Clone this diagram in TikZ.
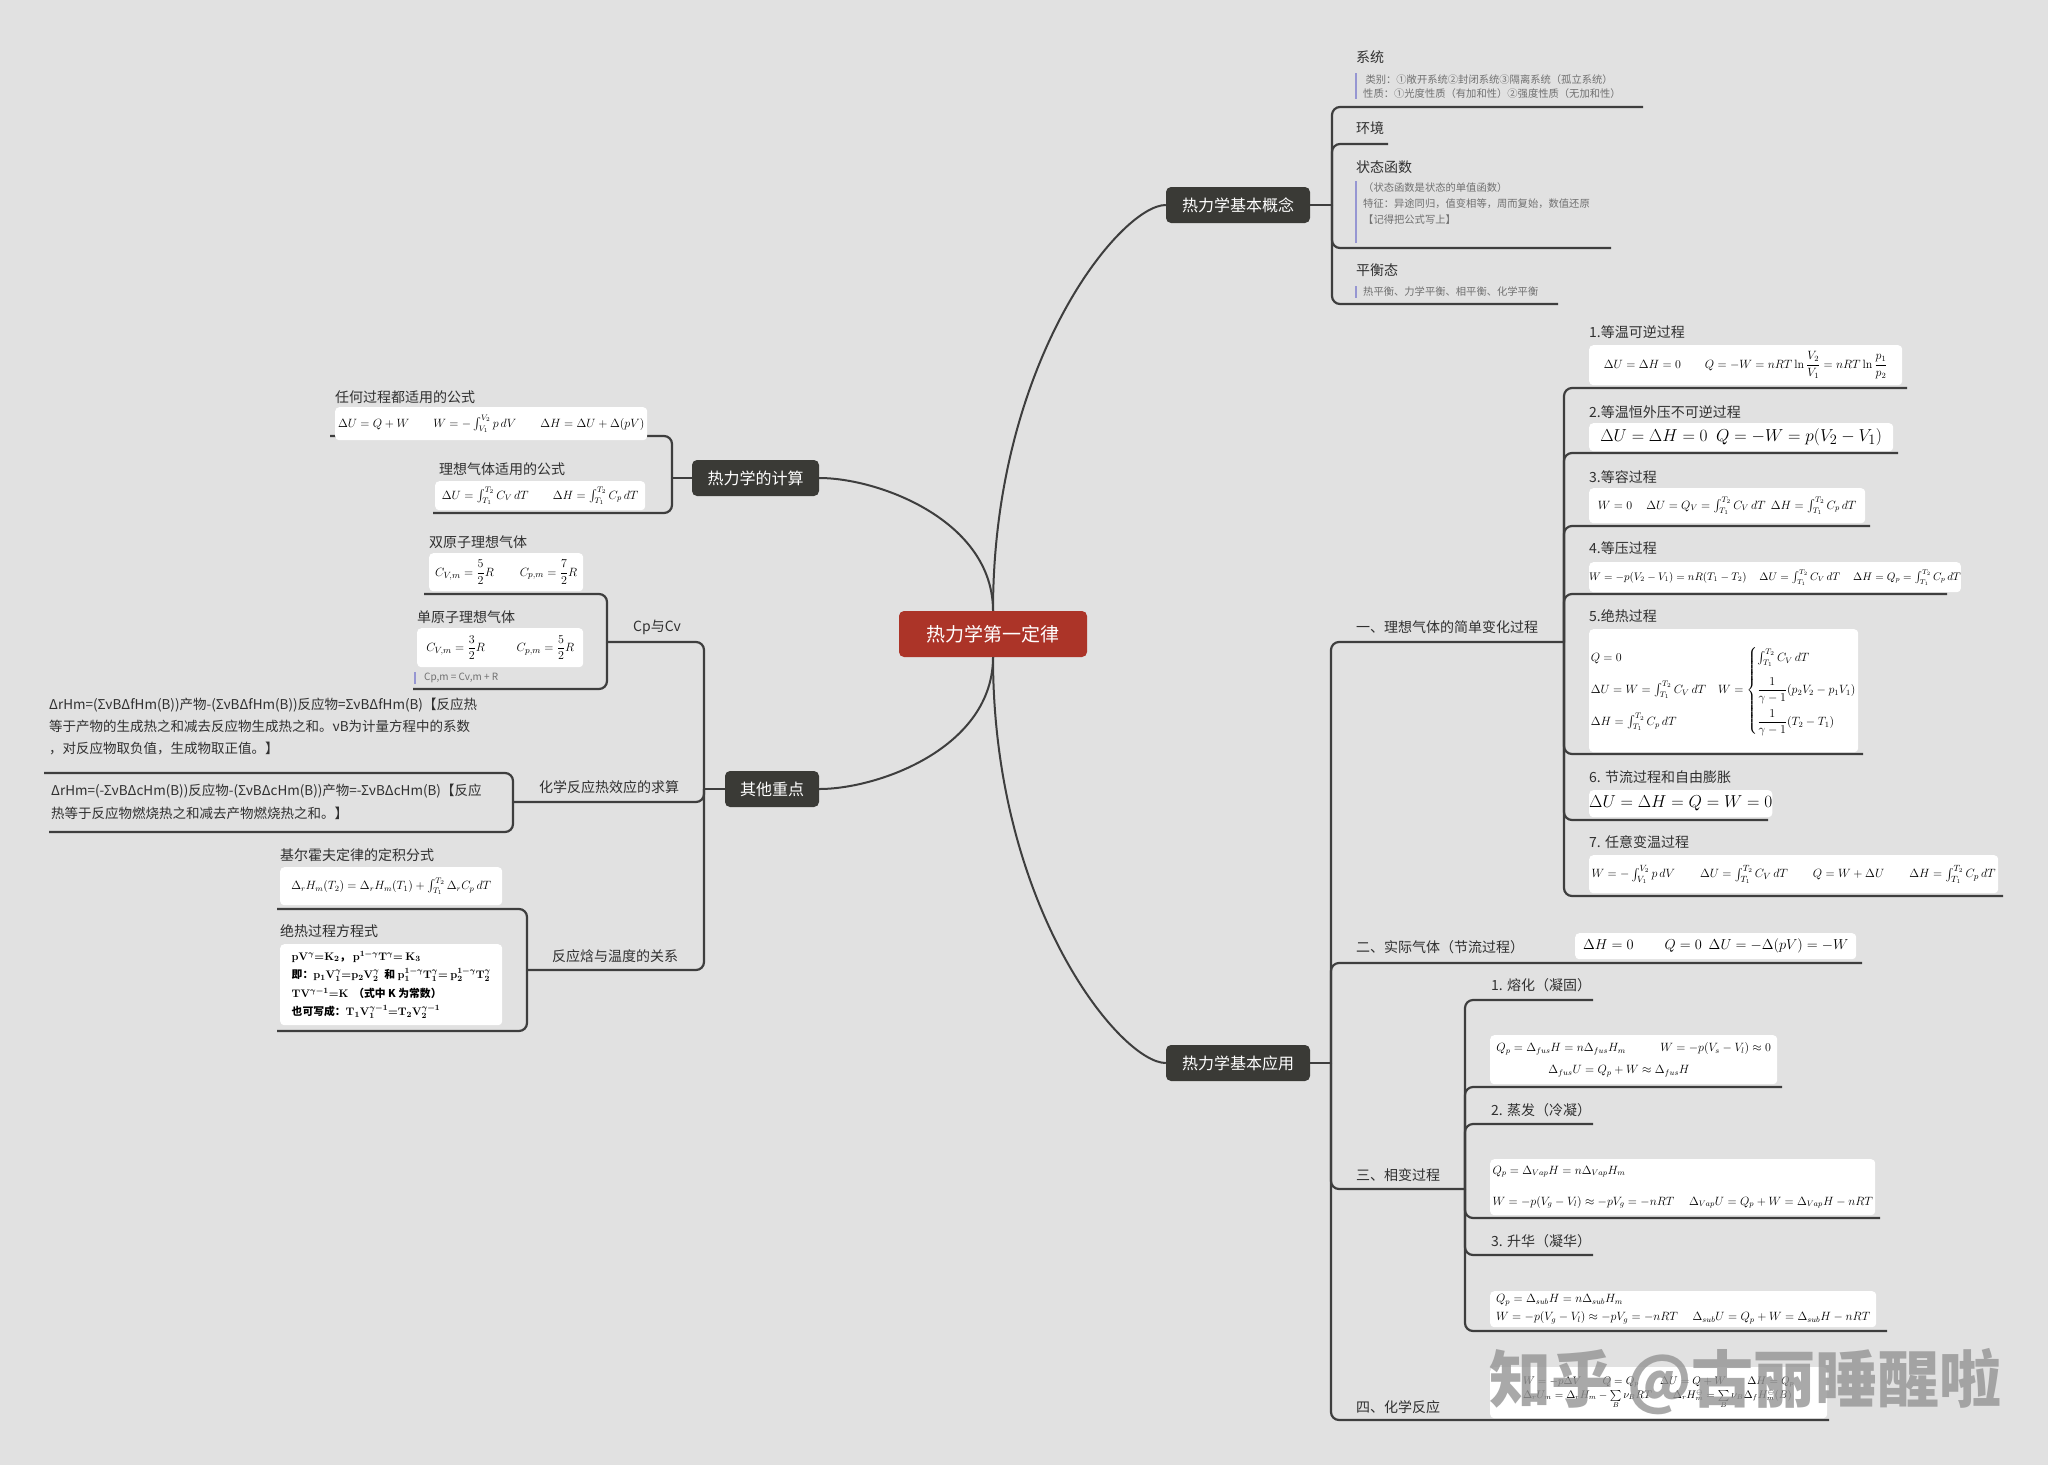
\documentclass[tikz,border=0pt]{standalone}
\usepackage{amsmath}
\usepackage[no-math]{fontspec}
\setmainfont{Noto Sans CJK SC}
\usepackage{tikz}

\definecolor{bggray}{RGB}{225,225,225}
\definecolor{linegray}{RGB}{62,62,62}
\definecolor{rootred}{RGB}{172,52,40}
\definecolor{topicdark}{RGB}{58,58,54}
\definecolor{labeltext}{RGB}{48,48,48}
\definecolor{notegray}{RGB}{112,112,112}
\definecolor{notebarc}{RGB}{150,150,210}

\begin{document}
\begin{tikzpicture}[
x=1pt, y=-1pt,
rootnode/.style={
fill=rootred, text=white,
rounded corners=5pt,
minimum width=188pt, minimum height=46pt,
inner sep=0pt,
font=\fontsize{19}{22}\selectfont
},
topic/.style={
fill=topicdark, text=white,
rounded corners=5pt,
minimum height=36pt, inner sep=0pt,
font=\fontsize{16}{19}\selectfont
},
sub/.style={anchor=west, inner sep=0pt, text=labeltext, font=\fontsize{14}{17}\selectfont},
note/.style={anchor=north west, inner xsep=7pt, inner ysep=1pt, align=left,
text=notegray, font=\fontsize{10.3}{14}\selectfont},
block/.style={anchor=north west, inner sep=0pt, align=left, text=labeltext,
font=\fontsize{13.5}{22}\selectfont},
formula/.style={anchor=north west, fill=white, rounded corners=4pt, inner sep=0pt,
align=left, text=black},
link/.style={draw=linegray, line width=2.2pt, rounded corners=8pt},
mainlink/.style={draw=linegray, line width=2pt},
notebar/.style={draw=notebarc, line width=2pt},
watermark/.style={anchor=west, inner sep=0pt, text=black!42, opacity=0.8,
font=\fontsize{62}{70}\selectfont\bfseries}
]

\fill[bggray] (0,0) rectangle (2048,1465);
\useasboundingbox (0,0) rectangle (2048,1465);

% centre and main topics
\node[rootnode] (root) at (993,634) {热力学第一定律};
\node[topic, minimum width=144pt] (concept) at (1238,205) {热力学基本概念};
\node[topic, minimum width=144pt] (apply) at (1238,1063) {热力学基本应用};
\node[topic, minimum width=127pt] (calc) at (755.5,478) {热力学的计算};
\node[topic, minimum width=94pt] (other) at (772,789) {其他重点};

\draw[mainlink] (root.north) .. controls +(0,-250) and +(-45,0) .. (concept.west);
\draw[mainlink] (root.south) .. controls +(0,250) and +(-45,0) .. (apply.west);
\draw[mainlink] (root.north) .. controls +(0,-90) and +(60,0) .. (calc.east);
\draw[mainlink] (root.south) .. controls +(0,90) and +(60,0) .. (other.east);

% basic concepts
\coordinate (cbar) at (1332,205);
\coordinate (sys-end) at (1643,107);
\coordinate (env-end) at (1388,144);
\coordinate (state-end) at (1611,248);
\coordinate (eq-end) at (1558,304);
\draw[link] (concept.east) -- (cbar);
\draw[link] (cbar) |- (sys-end);
\draw[link] (cbar) |- (env-end);
\draw[link] (cbar) |- (state-end);
\draw[link] (cbar) |- (eq-end);

\node[sub] (sys) at (1356,57) {系统};
\node[note] (sysnote) at (1356,73) {\ 类别：①敞开系统②封闭系统③隔离系统（孤立系统）\\性质：①光度性质（有加和性）②强度性质（无加和性）};
\draw[notebar] (sysnote.north west) -- (sysnote.south west);
\node[sub] (env) at (1356,128) {环境};
\node[sub] (state) at (1356,167) {状态函数};
\node[note, font=\fontsize{10.3}{16}\selectfont] (statenote) at (1356,181) {（状态函数是状态的单值函数）\\特征：异途同归，值变相等，周而复始，数值还原\\【记得把公式写上】};
\draw[notebar] (statenote.north west) -- ++(0,62);
\node[sub] (eq) at (1356,270) {平衡态};
\node[note] (eqnote) at (1356,286) {热平衡、力学平衡、相平衡、化学平衡};
\draw[notebar] (eqnote.north west) -- (eqnote.south west);

% basic applications
\coordinate (abar) at (1331,1063);
\coordinate (ideal-end) at (1564,642);
\coordinate (real-end) at (1862,963);
\coordinate (phase-end) at (1465,1189);
\coordinate (chem-end) at (1829,1420);
\draw[link] (apply.east) -- (abar);
\draw[link] (abar) |- (ideal-end);
\draw[link] (abar) |- (real-end);
\draw[link] (abar) |- (phase-end);
\draw[link] (abar) |- (chem-end);

\node[sub] (ideal) at (1356,627) {一、理想气体的简单变化过程};
\node[sub] (real) at (1356,947) {二、实际气体（节流过程）};
\node[sub] (phase) at (1356,1175) {三、相变过程};
\node[sub] (chem) at (1356,1407) {四、化学反应};

\coordinate (p1-end) at (1907,388);
\coordinate (p2-end) at (1898,453);
\coordinate (p3-end) at (1870,526);
\coordinate (p4-end) at (1947,594);
\coordinate (p5-end) at (1863,754);
\coordinate (p6-end) at (1768,820);
\coordinate (p7-end) at (2003,896);
\draw[link] (ideal-end) |- (p1-end);
\draw[link] (ideal-end) |- (p2-end);
\draw[link] (ideal-end) |- (p3-end);
\draw[link] (ideal-end) |- (p4-end);
\draw[link] (ideal-end) |- (p5-end);
\draw[link] (ideal-end) |- (p6-end);
\draw[link] (ideal-end) |- (p7-end);

\node[sub] (p1) at (1589,332) {1.等温可逆过程};
\node[formula, minimum width=313pt, minimum height=40pt, font=\fontsize{12}{14}\selectfont] (p1f) at (1589,345)
{$\Delta U=\Delta H=0\qquad Q=-W=nRT\ln\dfrac{V_2}{V_1}=nRT\ln\dfrac{p_1}{p_2}$};
\node[sub] (p2) at (1589,412) {2.等温恒外压不可逆过程};
\node[formula, minimum width=304pt, minimum height=28pt, font=\fontsize{19}{22}\selectfont] (p2f) at (1589,423)
{$\Delta U=\Delta H=0\ \ Q=-W=p(V_2-V_1)$};
\node[sub] (p3) at (1589,477) {3.等容过程};
\node[formula, minimum width=276pt, minimum height=35pt, font=\fontsize{11.5}{14}\selectfont] (p3f) at (1589,488)
{$W=0\quad\ \Delta U=Q_V=\int_{T_1}^{T_2}C_V\,dT\ \ \Delta H=\int_{T_1}^{T_2}C_p\,dT$};
\node[sub] (p4) at (1589,548) {4.等压过程};
\node[formula, minimum width=353pt, minimum height=30pt, font=\fontsize{10.5}{13}\selectfont] (p4f) at (1589,562)
{$W=-p(V_2-V_1)=nR(T_1-T_2)\quad\ \Delta U=\int_{T_1}^{T_2}C_V\,dT\quad\ \Delta H=Q_p=\int_{T_1}^{T_2}C_p\,dT$};
\node[sub] (p5) at (1589,616) {5.绝热过程};
\node[formula, minimum width=269pt, minimum height=123pt, font=\fontsize{12}{14}\selectfont] (p5f) at (1589,629)
{$\begin{array}{@{}l@{}}
Q=0\vphantom{\dfrac{1}{\gamma-1}}\\[12pt]
\Delta U=W=\int_{T_1}^{T_2}C_V\,dT\vphantom{\dfrac{1}{\gamma-1}}\\[12pt]
\Delta H=\int_{T_1}^{T_2}C_p\,dT\vphantom{\dfrac{1}{\gamma-1}}
\end{array}\quad
W=\left\{\begin{array}{@{}l@{}}
\int_{T_1}^{T_2}C_V\,dT\vphantom{\dfrac{1}{\gamma-1}}\\[12pt]
\dfrac{1}{\gamma-1}(p_2V_2-p_1V_1)\\[12pt]
\dfrac{1}{\gamma-1}(T_2-T_1)
\end{array}\right.$};
\node[sub] (p6) at (1589,777) {6. 节流过程和自由膨胀};
\node[formula, minimum width=174pt, minimum height=27pt, font=\fontsize{17}{20}\selectfont] (p6f) at (1589,790)
{$\Delta U=\Delta H=Q=W=0$};
\node[sub] (p7) at (1589,842) {7. 任意变温过程};
\node[formula, minimum width=409pt, minimum height=38pt, font=\fontsize{12.5}{15}\selectfont] (p7f) at (1589,855)
{$W=-\int_{V_1}^{V_2}p\,dV\qquad \Delta U=\int_{T_1}^{T_2}C_V\,dT\qquad Q=W+\Delta U\qquad \Delta H=\int_{T_1}^{T_2}C_p\,dT$};

\node[formula, minimum width=281pt, minimum height=26pt, font=\fontsize{15.5}{18}\selectfont] (realf) at (1575,933)
{$\Delta H=0\qquad Q=0\ \ \Delta U=-\Delta(pV)=-W$};

% phase changes
\coordinate (melt-end) at (1593,1000);
\coordinate (meltf-end) at (1782,1087);
\coordinate (vap-end) at (1593,1124);
\coordinate (vapf-end) at (1880,1218);
\coordinate (subl-end) at (1593,1255);
\coordinate (sublf-end) at (1887,1331);
\draw[link] (phase-end) |- (melt-end);
\draw[link] (phase-end) |- (meltf-end);
\draw[link] (phase-end) |- (vap-end);
\draw[link] (phase-end) |- (vapf-end);
\draw[link] (phase-end) |- (subl-end);
\draw[link] (phase-end) |- (sublf-end);

\node[sub] (melt) at (1491,985) {1. 熔化（凝固）};
\node[formula, minimum width=287pt, minimum height=49pt, font=\fontsize{11.5}{14}\selectfont] (meltf) at (1490,1035)
{$\begin{array}{@{}l@{}}
Q_p=\Delta_{fus}H=n\Delta_{fus}H_m\qquad\quad W=-p(V_s-V_l)\approx0\\[8pt]
\hspace{52pt}\Delta_{fus}U=Q_p+W\approx\Delta_{fus}H
\end{array}$};
\node[sub] (vap) at (1491,1110) {2. 蒸发（冷凝）};
\node[formula, minimum width=385pt, minimum height=56pt, font=\fontsize{12}{31}\selectfont] (vapf) at (1490,1159)
{$Q_p=\Delta_{Vap}H=n\Delta_{Vap}H_m$\\
$W=-p(V_g-V_l)\approx-pV_g=-nRT\quad\ \Delta_{Vap}U=Q_p+W=\Delta_{Vap}H-nRT$};
\node[sub] (subl) at (1491,1241) {3. 升华（凝华）};
\node[formula, minimum width=386pt, minimum height=36pt, font=\fontsize{12}{18}\selectfont] (sublf) at (1490,1291)
{$Q_p=\Delta_{sub}H=n\Delta_{sub}H_m$\\
$W=-p(V_g-V_l)\approx-pV_g=-nRT\quad\ \Delta_{sub}U=Q_p+W=\Delta_{sub}H-nRT$};

\node[formula, minimum width=337pt, minimum height=51pt, font=\fontsize{10.5}{14}\selectfont] (chemf) at (1490,1367)
{$W=-p\Delta V\qquad Q=Q_p\qquad \Delta U=Q+W\qquad \Delta H=Q_p$\\
$\Delta_rU_m=\Delta_rH_m-\sum\limits_B\nu_BRT\qquad \Delta_rH_m^{\ominus}=\sum\limits_B\nu_B\Delta_fH_m^{\ominus}(B)$};

% thermodynamic calculations
\coordinate (lbar) at (672,478);
\coordinate (any-end) at (330,436);
\coordinate (idl-end) at (433,513);
\draw[link] (calc.west) -- (lbar);
\draw[link] (lbar) |- (any-end);
\draw[link] (lbar) |- (idl-end);

\node[sub] (any) at (335,397) {任何过程都适用的公式};
\node[formula, minimum width=312pt, minimum height=33pt, font=\fontsize{12}{14}\selectfont] (anyf) at (335,407)
{$\Delta U=Q+W\qquad W=-\int_{V_1}^{V_2}p\,dV\qquad \Delta H=\Delta U+\Delta(pV)$};
\node[sub] (idl) at (439,469) {理想气体适用的公式};
\node[formula, minimum width=210pt, minimum height=29pt, font=\fontsize{12}{14}\selectfont] (idlf) at (435,481)
{$\Delta U=\int_{T_1}^{T_2}C_V\,dT\qquad \Delta H=\int_{T_1}^{T_2}C_p\,dT$};

% other key points
\coordinate (obar) at (704,789);
\coordinate (cp-end) at (607,642);
\coordinate (heat-end) at (513,802);
\coordinate (temp-end) at (527,970);
\draw[link] (other.west) -- (obar);
\draw[link] (obar) |- (cp-end);
\draw[link] (obar) |- (heat-end);
\draw[link] (obar) |- (temp-end);

\node[sub] (cp) at (633,627) {Cp与Cv};
\node[sub] (heat) at (539,787) {化学反应热效应的求算};
\node[sub] (temp) at (552,956) {反应焓与温度的关系};

\coordinate (di-end) at (424,594);
\coordinate (mono-end) at (413,689);
\draw[link] (cp-end) |- (di-end);
\draw[link] (cp-end) |- (mono-end);
\node[sub] (di) at (429,542) {双原子理想气体};
\node[formula, minimum width=154pt, minimum height=38pt, font=\fontsize{13}{15}\selectfont] (dif) at (429,553)
{$C_{V,m}=\dfrac{5}{2}R\qquad C_{p,m}=\dfrac{7}{2}R$};
\node[sub] (mono) at (417,617) {单原子理想气体};
\node[formula, minimum width=166pt, minimum height=39pt, font=\fontsize{13}{15}\selectfont] (monof) at (417,628)
{$C_{V,m}=\dfrac{3}{2}R\qquad\ \ C_{p,m}=\dfrac{5}{2}R$};
\node[note, inner xsep=9pt, font=\fontsize{10}{12}\selectfont] (mononote) at (415,672) {Cp,m = Cv,m + R};
\draw[notebar] (mononote.north west) -- (mononote.south west);

\coordinate (b1-end) at (44,773);
\coordinate (b2-end) at (49,832);
\draw[link] (heat-end) |- (b1-end);
\draw[link] (heat-end) |- (b2-end);
\node[block] (b1) at (49,698) {ΔrHm=(ΣνBΔfHm(B))产物-(ΣνBΔfHm(B))反应物=ΣνBΔfHm(B)【反应热\\等于产物的生成热之和减去反应物生成热之和。νB为计量方程中的系数\\，对反应物取负值，生成物取正值。】};
\node[block, font=\fontsize{13.5}{23}\selectfont] (b2) at (51,784) {ΔrHm=(-ΣνBΔcHm(B))反应物-(ΣνBΔcHm(B))产物=-ΣνBΔcHm(B)【反应\\热等于反应物燃烧热之和减去产物燃烧热之和。】};

\coordinate (kir-end) at (277,909);
\coordinate (adi-end) at (277,1031);
\draw[link] (temp-end) |- (kir-end);
\draw[link] (temp-end) |- (adi-end);
\node[sub] (kir) at (280,855) {基尔霍夫定律的定积分式};
\node[formula, minimum width=222pt, minimum height=38pt, font=\fontsize{12}{14}\selectfont] (kirf) at (280,867)
{$\Delta_rH_m(T_2)=\Delta_rH_m(T_1)+\int_{T_1}^{T_2}\Delta_rC_p\,dT$};
\node[sub] (adi) at (280,931) {绝热过程方程式};
\node[formula, minimum width=222pt, minimum height=81pt, font=\fontsize{10.8}{18.5}\selectfont\bfseries\boldmath] (adif) at (280,944)
{$\mathrm{pV^{\gamma}{=}K_2}$，\ $\mathrm{p^{1-\gamma}T^{\gamma}{=}\ K_3}$\\
即：$\mathrm{p_1V_1^{\gamma}{=}p_2V_2^{\gamma}}$\ \ 和 $\mathrm{p_1^{1-\gamma}T_1^{\gamma}{=}\ p_2^{1-\gamma}T_2^{\gamma}}$\\
$\mathrm{TV^{\gamma-1}{=}K}$\ \ （式中 K 为常数）\\
也可写成：$\mathrm{T_1V_1^{\gamma-1}{=}T_2V_2^{\gamma-1}}$};

% watermark
\node[watermark] (wm) at (1489,1382) {知乎 @古丽睡醒啦};

\end{tikzpicture}
\end{document}
